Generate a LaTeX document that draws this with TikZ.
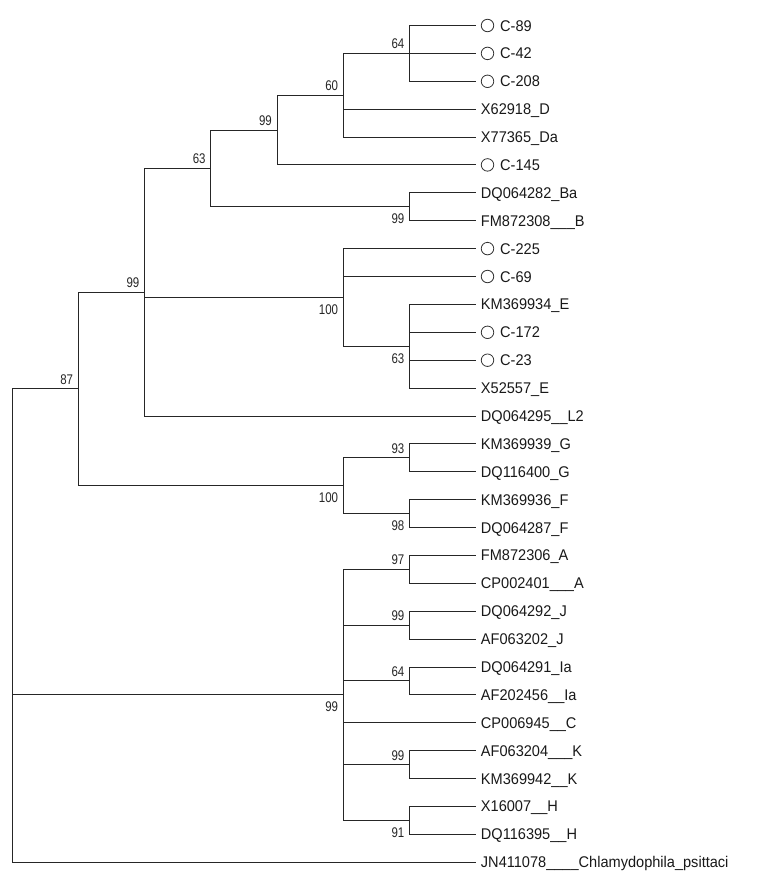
\documentclass[tikz,border=0pt]{standalone}
\usepackage{fontspec}
\newfontfamily\leaffam[FakeStretch=0.94]{Liberation Sans}
\newfontfamily\bsfam[FakeStretch=0.82]{Liberation Sans}
\newcommand\lfnt{\leaffam\fontsize{15.5pt}{18pt}\selectfont}
\newcommand\bfnt{\bsfam\fontsize{14pt}{16pt}\selectfont}
\begin{document}
\begin{tikzpicture}[x=1pt,y=-1pt,
  br/.style={draw=black!85,line width=1pt},
  leaf/.style={anchor=west,font=\lfnt,text=black!90,inner xsep=5pt,inner ysep=0pt,text height=11pt,text depth=0pt},
  ring/.style={draw=black!80,circle,line width=0.8pt,minimum size=12.5pt,inner sep=0pt},
  bsa/.style={anchor=base east,font=\bfnt,text=black!85,inner sep=0pt,xshift=-5pt,yshift=4.5pt},
  bsb/.style={anchor=base east,font=\bfnt,text=black!85,inner sep=0pt,xshift=-5pt,yshift=-17pt}]
\useasboundingbox (0,0) rectangle (771,887);
\fill[white] (0,0) rectangle (771,887);
% leaves
\def\cpre{\hspace{19.25pt}}
\node[leaf] (l0) at (475.75,25.5) {\cpre C-89};
\node[leaf] (l1) at (475.75,53.4) {\cpre C-42};
\node[leaf] (l2) at (475.75,81.3) {\cpre C-208};
\node[leaf] (l3) at (475.75,109.2) {X62918\_D};
\node[leaf] (l4) at (475.75,137.1) {X77365\_Da};
\node[leaf] (l5) at (475.75,164.9) {\cpre C-145};
\node[leaf] (l6) at (475.75,192.8) {DQ064282\_Ba};
\node[leaf] (l7) at (475.75,220.7) {FM872308\_\_\_B};
\node[leaf] (l8) at (475.75,248.6) {\cpre C-225};
\node[leaf] (l9) at (475.75,276.5) {\cpre C-69};
\node[leaf] (l10) at (475.75,304.4) {KM369934\_E};
\node[leaf] (l11) at (475.75,332.3) {\cpre C-172};
\node[leaf] (l12) at (475.75,360.2) {\cpre C-23};
\node[leaf] (l13) at (475.75,388.1) {X52557\_E};
\node[leaf] (l14) at (475.75,416.0) {DQ064295\_\_L2};
\node[leaf] (l15) at (475.75,443.9) {KM369939\_G};
\node[leaf] (l16) at (475.75,471.7) {DQ116400\_G};
\node[leaf] (l17) at (475.75,499.6) {KM369936\_F};
\node[leaf] (l18) at (475.75,527.5) {DQ064287\_F};
\node[leaf] (l19) at (475.75,555.4) {FM872306\_A};
\node[leaf] (l20) at (475.75,583.3) {CP002401\_\_\_A};
\node[leaf] (l21) at (475.75,611.2) {DQ064292\_J};
\node[leaf] (l22) at (475.75,639.1) {AF063202\_J};
\node[leaf] (l23) at (475.75,667.0) {DQ064291\_Ia};
\node[leaf] (l24) at (475.75,694.9) {AF202456\_\_Ia};
\node[leaf] (l25) at (475.75,722.8) {CP006945\_\_C};
\node[leaf] (l26) at (475.75,750.6) {AF063204\_\_\_K};
\node[leaf] (l27) at (475.75,778.5) {KM369942\_\_K};
\node[leaf] (l28) at (475.75,806.4) {X16007\_\_H};
\node[leaf] (l29) at (475.75,834.3) {DQ116395\_\_H};
\node[leaf] (l30) at (475.75,862.2) {JN411078\_\_\_\_Chlamydophila\_psittaci};
% circles
\foreach \i in {0,1,2,5,8,9,11,12}{\node[ring] (c\i) at ([xshift=11.75pt]l\i.west) {};}
% internal nodes
\coordinate (n64) at (409.5,53.4);
\coordinate (n60) at (343.25,95.25);
\coordinate (n99a) at (277,130.1);
\coordinate (nB) at (409.5,206.75);
\coordinate (n63a) at (210.75,168.4);
\coordinate (nE63) at (409.5,346.25);
\coordinate (nE100) at (343.25,297.4);
\coordinate (n99b) at (144.5,292.2);
\coordinate (nG93) at (409.5,457.8);
\coordinate (nF98) at (409.5,513.55);
\coordinate (nGF) at (343.25,485.7);
\coordinate (n87) at (78.25,388.95);
\coordinate (nA97) at (409.5,569.35);
\coordinate (nJ) at (409.5,625.15);
\coordinate (nIa) at (409.5,680.95);
\coordinate (nK) at (409.5,764.55);
\coordinate (nH) at (409.5,820.35);
\coordinate (nA99) at (343.25,694.85);
\coordinate (root) at (12,625.6);
% branches
\draw[br] (n64) |- (l0.west); \draw[br] (n64) |- (l1.west); \draw[br] (n64) |- (l2.west);
\draw[br] (n60) |- (n64); \draw[br] (n60) |- (l3.west); \draw[br] (n60) |- (l4.west);
\draw[br] (n99a) |- (n60); \draw[br] (n99a) |- (l5.west);
\draw[br] (nB) |- (l6.west); \draw[br] (nB) |- (l7.west);
\draw[br] (n63a) |- (n99a); \draw[br] (n63a) |- (nB);
\draw[br] (nE63) |- (l10.west); \draw[br] (nE63) |- (l11.west); \draw[br] (nE63) |- (l12.west); \draw[br] (nE63) |- (l13.west);
\draw[br] (nE100) |- (l8.west); \draw[br] (nE100) |- (l9.west); \draw[br] (nE100) |- (nE63);
\draw[br] (n99b) |- (n63a); \draw[br] (n99b) |- (nE100); \draw[br] (n99b) |- (l14.west);
\draw[br] (nG93) |- (l15.west); \draw[br] (nG93) |- (l16.west);
\draw[br] (nF98) |- (l17.west); \draw[br] (nF98) |- (l18.west);
\draw[br] (nGF) |- (nG93); \draw[br] (nGF) |- (nF98);
\draw[br] (n87) |- (n99b); \draw[br] (n87) |- (nGF);
\draw[br] (nA97) |- (l19.west); \draw[br] (nA97) |- (l20.west);
\draw[br] (nJ) |- (l21.west); \draw[br] (nJ) |- (l22.west);
\draw[br] (nIa) |- (l23.west); \draw[br] (nIa) |- (l24.west);
\draw[br] (nK) |- (l26.west); \draw[br] (nK) |- (l27.west);
\draw[br] (nH) |- (l28.west); \draw[br] (nH) |- (l29.west);
\draw[br] (nA99) |- (nA97); \draw[br] (nA99) |- (nJ); \draw[br] (nA99) |- (nIa);
\draw[br] (nA99) |- (l25.west); \draw[br] (nA99) |- (nK); \draw[br] (nA99) |- (nH);
\draw[br] (root) |- (n87); \draw[br] (root) |- (nA99); \draw[br] (root) |- (l30.west);
% bootstrap values
\node[bsa] (b64) at (n64) {64};
\node[bsa] (b60) at (n60) {60};
\node[bsa] (b99a) at (n99a) {99};
\node[bsa] (b63a) at (n63a) {63};
\node[bsb] (bB) at (nB) {99};
\node[bsa] (b99b) at (n99b) {99};
\node[bsb] (bE100) at (nE100) {100};
\node[bsb] (bE63) at (nE63) {63};
\node[bsa] (b87) at (n87) {87};
\node[bsa] (bG93) at (nG93) {93};
\node[bsb] (bF98) at (nF98) {98};
\node[bsb] (bGF) at (nGF) {100};
\node[bsa] (bA97) at (nA97) {97};
\node[bsa] (bJ) at (nJ) {99};
\node[bsa] (bIa) at (nIa) {64};
\node[bsa] (bK) at (nK) {99};
\node[bsb] (bH) at (nH) {91};
\node[bsb] (bA99) at (nA99) {99};
\end{tikzpicture}
\end{document}
